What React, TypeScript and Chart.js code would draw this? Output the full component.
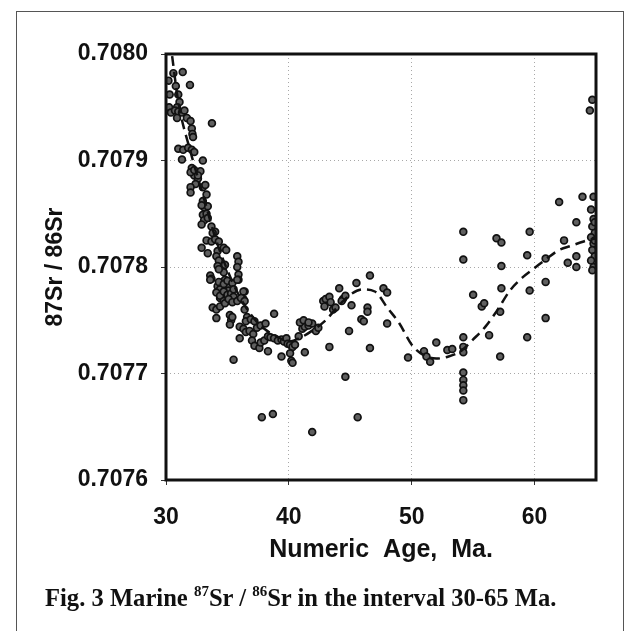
import React, { useEffect, useRef } from 'react';
import { Chart, registerables } from 'chart.js';

Chart.register(...registerables);

// Axis ticks
const xTicks = [30, 40, 50, 60];
const yTicks = [0.7076, 0.7077, 0.7078, 0.7079, 0.708];

// Fitted (dashed) curve
const curveAges = [30.5, 31, 32, 33, 34, 35, 36, 37, 38, 39, 40, 41, 42, 43, 44, 45, 46, 47, 48, 49, 50, 51, 52, 53, 54, 55, 56, 57, 58, 59, 60, 61, 62, 63, 64, 65];
const curveRatios = [0.707998, 0.707955, 0.707908, 0.707868, 0.707828, 0.707797, 0.707772, 0.707754, 0.707742, 0.707735, 0.70773, 0.707734, 0.707741, 0.70775, 0.707763, 0.707774, 0.707779, 0.707777, 0.707762, 0.707747, 0.707727, 0.707717, 0.707714, 0.707716, 0.707721, 0.707732, 0.707744, 0.70776, 0.707778, 0.70779, 0.707799, 0.707808, 0.707816, 0.70782, 0.707824, 0.707827];

// Samples 30-33 Ma
const agesA = [30.2, 30.3, 30.25, 30.4, 30.6, 30.8, 31.0, 31.1, 30.9, 31.36, 31.95, 30.73, 31.0, 31.3, 31.5, 30.9, 31.7, 32.0, 32.1, 32.15, 33.74, 32.2, 31.0, 31.4, 31.8, 32.1, 32.3, 31.3, 33.0, 32.1, 32.3, 32.6, 32.8, 32.4];
const ratiosA = [0.707975, 0.707962, 0.70795, 0.707945, 0.707982, 0.70797, 0.707962, 0.707955, 0.70795, 0.707983, 0.707971, 0.707947, 0.707946, 0.707945, 0.707947, 0.70794, 0.70794, 0.707937, 0.70793, 0.707925, 0.707935, 0.707922, 0.707911, 0.70791, 0.707912, 0.70791, 0.707908, 0.707901, 0.7079, 0.707893, 0.707886, 0.707883, 0.70789, 0.707878];

// Samples 32-36.5 Ma
const agesB = [32.0, 32.3, 32.6, 32.0, 32.0, 33.0, 33.2, 33.3, 33.0, 33.1, 33.4, 32.9, 33.0, 33.3, 33.1, 33.4, 32.9, 33.7, 34.0, 33.8, 33.3, 33.7, 34.0, 34.3, 32.9, 33.4, 34.2, 34.7, 34.9, 34.1, 34.3, 34.2, 34.6, 34.7, 34.8, 34.3, 35.8, 35.9, 35.8, 35.9, 35.9, 33.6, 33.7, 34.8, 34.9, 35.0, 35.1, 34.6, 34.2, 34.4, 36.4, 34.4, 34.8, 35.2, 36.3];
const ratiosB = [0.707889, 0.707891, 0.707886, 0.707875, 0.70787, 0.707875, 0.707877, 0.707868, 0.707862, 0.707856, 0.707857, 0.707858, 0.707849, 0.70785, 0.707844, 0.707846, 0.70784, 0.707838, 0.707833, 0.707832, 0.707825, 0.707824, 0.707826, 0.707824, 0.707818, 0.707813, 0.707815, 0.707818, 0.707816, 0.70781, 0.707806, 0.707801, 0.707798, 0.707795, 0.707802, 0.707798, 0.70781, 0.707805, 0.7078, 0.707793, 0.707788, 0.707792, 0.707789, 0.707788, 0.707785, 0.707781, 0.707778, 0.707779, 0.707782, 0.707779, 0.707777, 0.707771, 0.707771, 0.707772, 0.70777];

// Samples 33.5-42.5 Ma
const agesC = [33.6, 34.3, 34.7, 35.0, 35.4, 35.8, 34.1, 34.4, 34.7, 35.0, 35.3, 35.5, 35.5, 36.3, 33.8, 34.1, 34.4, 34.7, 34.8, 35.1, 35.4, 35.8, 36.1, 36.4, 34.1, 35.2, 35.3, 35.4, 35.2, 36.4, 36.6, 36.5, 36.9, 37.2, 36.0, 36.3, 36.5, 36.8, 37.1, 37.4, 37.7, 38.1, 38.8, 36.0, 37.0, 37.2, 37.6, 37.7, 38.0, 38.3, 38.5, 38.8, 39.1, 39.4, 39.6, 39.8, 39.9, 40.1, 40.3, 40.5, 40.8, 41.1, 41.3, 41.6, 41.9, 42.2, 38.3, 39.4, 40.1, 40.2, 40.3, 41.3, 35.5, 37.8, 38.7];
const ratiosC = [0.707788, 0.707786, 0.707784, 0.707787, 0.707785, 0.707788, 0.707776, 0.707773, 0.707777, 0.707774, 0.707775, 0.707779, 0.707772, 0.707777, 0.707762, 0.70776, 0.707763, 0.707768, 0.707766, 0.70777, 0.707767, 0.707768, 0.707771, 0.707768, 0.707752, 0.707755, 0.70775, 0.707753, 0.707746, 0.70776, 0.707753, 0.707749, 0.707751, 0.707749, 0.707744, 0.707742, 0.707739, 0.70774, 0.707737, 0.707743, 0.707745, 0.707747, 0.707756, 0.707733, 0.707731, 0.707726, 0.707724, 0.707729, 0.707731, 0.707735, 0.707734, 0.707733, 0.707731, 0.707732, 0.70773, 0.707733, 0.707728, 0.707727, 0.707725, 0.707727, 0.707735, 0.707742, 0.707744, 0.707745, 0.707747, 0.70774, 0.707721, 0.707716, 0.707719, 0.707712, 0.70771, 0.70772, 0.707713, 0.707659, 0.707662];

// Samples 41-53 Ma
const agesD = [40.9, 41.2, 41.6, 41.9, 42.4, 42.8, 43.0, 43.3, 42.9, 43.4, 43.3, 43.6, 43.8, 44.1, 44.4, 44.3, 44.6, 44.6, 44.9, 45.1, 45.5, 45.6, 45.9, 46.1, 46.4, 46.4, 46.6, 46.6, 47.7, 48.0, 48.0, 49.7, 51.0, 51.2, 51.5, 52.0, 52.9];
const ratiosD = [0.707748, 0.70775, 0.707748, 0.707645, 0.707743, 0.707768, 0.70777, 0.707772, 0.707763, 0.707767, 0.707725, 0.70776, 0.707762, 0.70778, 0.70777, 0.707768, 0.707773, 0.707697, 0.70774, 0.707764, 0.707785, 0.707659, 0.707751, 0.707749, 0.707762, 0.707758, 0.707792, 0.707724, 0.70778, 0.707776, 0.707747, 0.707715, 0.707721, 0.707716, 0.707711, 0.707729, 0.707722];

// Samples 53-65 Ma
const agesE = [53.3, 54.2, 54.2, 54.2, 54.2, 54.2, 54.2, 54.2, 54.2, 54.2, 54.2, 55.0, 55.7, 55.9, 56.3, 56.9, 57.3, 57.3, 57.2, 57.2, 57.3, 59.6, 59.4, 59.6, 59.4, 60.9, 60.9, 60.9, 62.0, 62.4, 62.7, 63.4, 63.4, 63.4, 64.6, 64.8, 64.7, 64.9, 64.6, 64.8, 64.7, 64.9, 64.6, 64.8, 64.7, 64.9, 64.9, 64.7, 64.5, 63.9, 64.8];
const ratiosE = [0.707723, 0.707833, 0.707807, 0.707734, 0.707725, 0.70772, 0.707701, 0.707694, 0.707689, 0.707684, 0.707675, 0.707774, 0.707763, 0.707766, 0.707736, 0.707827, 0.707823, 0.707801, 0.707758, 0.707716, 0.70778, 0.707833, 0.707811, 0.707778, 0.707734, 0.707808, 0.707786, 0.707752, 0.707861, 0.707825, 0.707804, 0.707842, 0.70781, 0.7078, 0.707854, 0.707845, 0.707838, 0.707832, 0.707828, 0.707822, 0.707816, 0.70781, 0.707806, 0.7078, 0.707797, 0.707842, 0.707825, 0.707957, 0.707947, 0.707866, 0.707866];

const allAges = [...agesA, ...agesB, ...agesC, ...agesD, ...agesE];
const allRatios = [...ratiosA, ...ratiosB, ...ratiosC, ...ratiosD, ...ratiosE];

const SANS = '"Liberation Sans", Arial, sans-serif';

const framePlugin = {
  id: 'plotFrame',
  afterDatasetsDraw(chart: any) {
    const { ctx, chartArea: a } = chart;
    ctx.save();
    ctx.strokeStyle = '#111';
    ctx.lineWidth = 3;
    ctx.strokeRect(a.left, a.top, a.right - a.left, a.bottom - a.top);
    ctx.restore();
  },
};

export default function App() {
  const canvasRef = useRef<HTMLCanvasElement | null>(null);

  useEffect(() => {
    document.body.style.margin = '0';
    document.body.style.overflow = 'hidden';
    const canvas = canvasRef.current;
    if (!canvas) return;

    const scatterData = allAges.map((x, i) => ({ x, y: allRatios[i] }));
    const curveData = curveAges.map((x, i) => ({ x, y: curveRatios[i] }));

    const gridOpts = {
      color: '#a8a8a8',
      lineWidth: 1,
      tickLength: 5,
      tickColor: '#333',
      drawTicks: true,
    };

    const chart = new Chart(canvas, {
      type: 'scatter',
      data: {
        datasets: [
          {
            type: 'line',
            data: curveData,
            borderColor: '#111',
            borderWidth: 2.5,
            borderDash: [10, 6],
            pointRadius: 0,
            fill: false,
            cubicInterpolationMode: 'monotone',
          } as any,
          {
            type: 'scatter',
            data: scatterData,
            pointRadius: 3.4,
            pointBorderWidth: 1.7,
            borderColor: '#111',
            backgroundColor: '#606060',
          } as any,
        ],
      },
      options: {
        animation: false,
        responsive: false,
        maintainAspectRatio: false,
        layout: { padding: { left: 14, top: 54, right: 35, bottom: 66 } },
        plugins: { legend: { display: false }, tooltip: { enabled: false } },
        scales: {
          x: {
            type: 'linear',
            min: 30,
            max: 65,
            afterBuildTicks: (s: any) => {
              s.ticks = xTicks.map((v) => ({ value: v }));
            },
            afterFit: (s: any) => {
              s.height = 85;
            },
            grid: gridOpts,
            border: { display: false, dash: [1, 3] },
            ticks: {
              color: '#111',
              padding: 19,
              maxRotation: 0,
              font: { family: SANS, size: 23, weight: 'bold' },
              callback: (v: any) => String(v),
            },
            title: {
              display: true,
              text: 'Numeric  Age,  Ma.',
              color: '#111',
              padding: { top: 0, bottom: 0 },
              font: { family: SANS, size: 25, weight: 'bold' },
            },
          },
          y: {
            type: 'linear',
            min: 0.7076,
            max: 0.708,
            afterBuildTicks: (s: any) => {
              s.ticks = yTicks.map((v) => ({ value: v }));
            },
            afterFit: (s: any) => {
              s.width = 152;
            },
            grid: gridOpts,
            border: { display: false, dash: [1, 3] },
            ticks: {
              color: '#111',
              padding: 13,
              font: { family: SANS, size: 23, weight: 'bold' },
              callback: (v: any) => Number(v).toFixed(4),
            },
            title: {
              display: true,
              text: '87Sr / 86Sr',
              color: '#111',
              padding: { top: 28, bottom: 0 },
              font: { family: SANS, size: 23, weight: 'bold' },
            },
          },
        },
      } as any,
      plugins: [framePlugin],
    });

    return () => chart.destroy();
  }, []);

  const supStyle: React.CSSProperties = { fontSize: 15, position: 'relative', top: -10 };

  return (
    <div style={{ position: 'relative', width: 631, height: 631, background: '#fff', overflow: 'hidden' }}>
      <div
        style={{
          position: 'absolute',
          left: 16,
          top: 11,
          width: 606,
          height: 630,
          borderLeft: '1px solid #555',
          borderTop: '1px solid #555',
          borderRight: '1px solid #555',
          pointerEvents: 'none',
        }}
      />
      <canvas ref={canvasRef} width={631} height={631} style={{ display: 'block', position: 'absolute', left: 0, top: 0 }} />
      <div
        style={{
          position: 'absolute',
          left: 45,
          top: 584,
          font: 'bold 24.6px "Liberation Serif", "Times New Roman", serif',
          lineHeight: '28px',
          whiteSpace: 'pre',
          color: '#111',
        }}
      >
        Fig. 3 Marine <span style={supStyle}>87</span>Sr / <span style={supStyle}>86</span>Sr in the interval 30-65 Ma.
      </div>
    </div>
  );
}
